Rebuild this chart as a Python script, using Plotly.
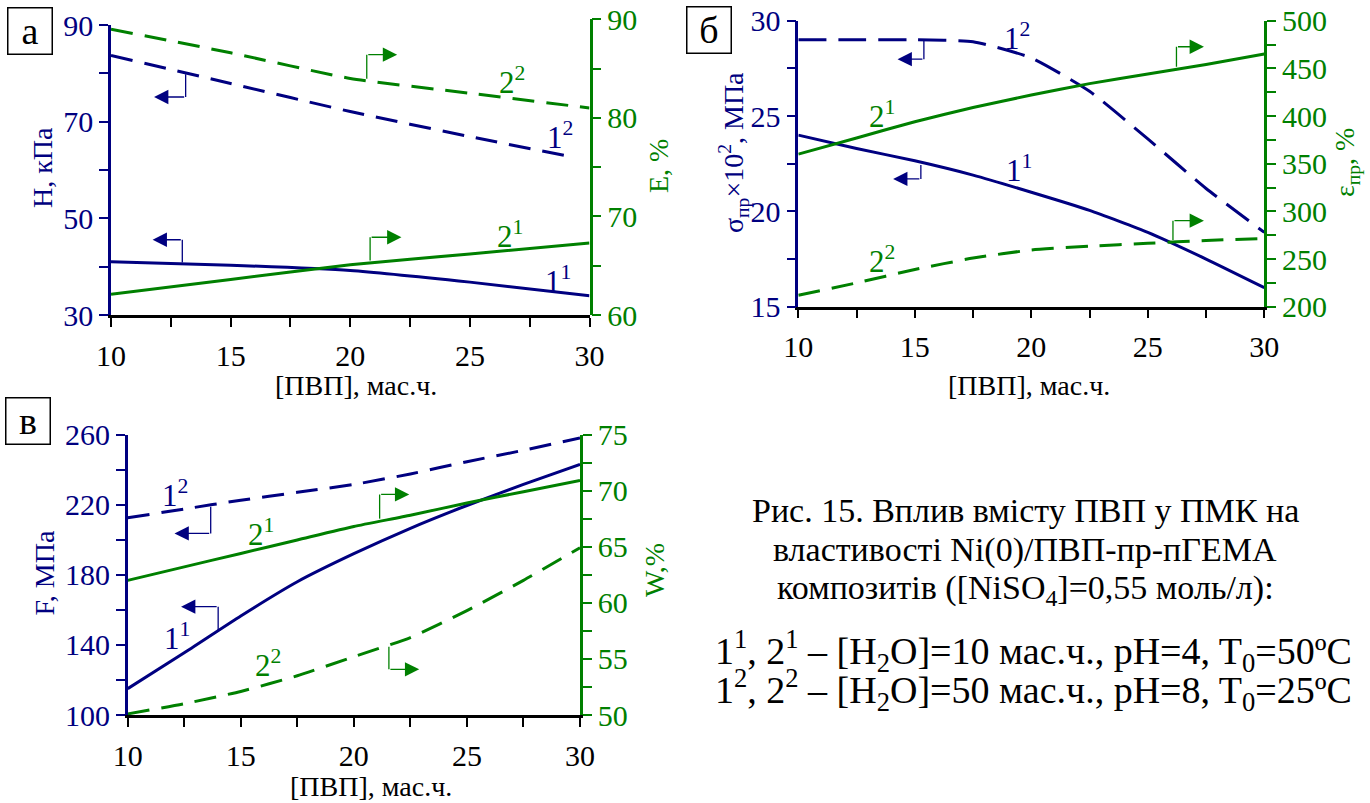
import plotly.graph_objects as go

NAVY = '#000080'
GREEN = '#008000'
FONT = '"Liberation Serif", "Times New Roman", "DejaVu Serif", serif'
W, H = 1370, 803

# ---------------- data ----------------
# panel а
pvp_a = [10, 15, 20, 25, 30]
pvp_a_12 = [10, 15, 20, 25, 29.4]
H_1 = [41.0, 40.3, 39.2, 36.8, 34.0]
H_2 = [83.7, 77.9, 72.1, 66.9, 62.6]
E_1 = [62.1, 63.6, 65.1, 66.2, 67.3]
E_2 = [89.0, 86.6, 84.0, 82.5, 81.0]

# panel б
pvp_b = [10, 12.5, 15, 17.5, 20, 22.5, 25, 27.5, 30]
sigma_1 = [24.0, 23.3, 22.65, 21.9, 21.0, 20.05, 18.9, 17.5, 16.0]
sigma_2 = [29.0, 29.0, 29.0, 28.9, 28.05, 26.3, 23.8, 21.2, 18.9]
eps_1 = [360, 377, 394, 409, 422, 434, 444, 454, 465]
eps_2 = [212, 225, 239, 251, 259.5, 263.5, 266.5, 269.5, 271.5]

# panel в
pvp_c = [10, 12.5, 15, 17.5, 20, 22.5, 25, 27.5, 30]
F_1 = [115, 135.5, 156.5, 176, 192, 206.5, 219.5, 231.5, 243]
F_2 = [212.5, 217.5, 222.5, 227, 231.5, 237.5, 244.5, 251, 258]
W_1 = [62.0, 63.2, 64.4, 65.6, 66.8, 67.8, 68.9, 69.9, 70.9]
W_2 = [50.1, 51.0, 52.1, 53.5, 55.2, 56.9, 59.3, 62.0, 64.9]

# pointer arrows: (x axis, y axis, x of stem, y start, y end, x of head, colour)
arrows = [
    ('x', 'y', 13.12, 79.8, 75.1, 11.8, NAVY),
    ('x', 'y2', 20.69, 83.97, 86.41, 21.96, GREEN),
    ('x', 'y', 12.98, 40.88, 45.57, 11.74, NAVY),
    ('x', 'y2', 20.83, 65.52, 67.89, 22.14, GREEN),
    ('x2', 'y3', 15.39, 29.0, 27.98, 14.26, NAVY),
    ('x2', 'y3', 15.26, 22.43, 21.7, 14.07, NAVY),
    ('x2', 'y4', 26.23, 451.7, 472.7, 27.41, GREEN),
    ('x2', 'y4', 26.08, 270.0, 290.2, 27.41, GREEN),
    ('x3', 'y5', 13.67, 218.8, 203.6, 12.07, NAVY),
    ('x3', 'y6', 21.14, 67.5, 69.66, 22.45, GREEN),
    ('x3', 'y5', 14.0, 147.5, 161.8, 12.36, NAVY),
    ('x3', 'y6', 21.55, 56.09, 54.07, 22.89, GREEN),
]

# curve labels: (text, x axis, y axis, x, y, colour)
curve_labels = [
    ('1<sup>2</sup>', 'x', 'y', 28.77, 67.06, NAVY),
    ('2<sup>2</sup>', 'x', 'y2', 26.77, 83.8, GREEN),
    ('2<sup>1</sup>', 'x', 'y2', 26.68, 68.2, GREEN),
    ('1<sup>1</sup>', 'x', 'y', 28.67, 37.4, NAVY),
    ('1<sup>2</sup>', 'x2', 'y3', 19.37, 29.16, NAVY),
    ('2<sup>1</sup>', 'x2', 'y3', 13.6, 25.06, GREEN),
    ('1<sup>1</sup>', 'x2', 'y3', 19.46, 22.26, NAVY),
    ('2<sup>2</sup>', 'x2', 'y3', 13.6, 17.45, GREEN),
    ('1<sup>2</sup>', 'x3', 'y5', 12.07, 226.4, NAVY),
    ('2<sup>1</sup>', 'x3', 'y6', 15.9, 66.3, GREEN),
    ('1<sup>1</sup>', 'x3', 'y5', 12.17, 144.7, NAVY),
    ('2<sup>2</sup>', 'x3', 'y6', 16.2, 54.6, GREEN),
]

caption_lines = [
    'Рис. 15. Вплив вмісту ПВП у ПМК на',
    'властивості Ni(0)/ПВП-пр-пГЕМА',
    'композитів ([NiSO<sub>4</sub>]=0,55 моль/л):',
    '1<sup>1</sup>, 2<sup>1</sup> – [H<sub>2</sub>O]=10 мас.ч., pH=4, T<sub>0</sub>=50ºC',
    '1<sup>2</sup>, 2<sup>2</sup> – [H<sub>2</sub>O]=50 мас.ч., pH=8, T<sub>0</sub>=25ºC',
]


def fx(px):
    return px / W


def fy(py):
    return 1 - py / H


fig = go.Figure()


def line(x, y, xa, ya, color, dash=None):
    fig.add_trace(go.Scatter(
        x=x, y=y, xaxis=xa, yaxis=ya, mode='lines', hoverinfo='skip',
        line=dict(color=color, width=3, dash=dash, shape='spline', smoothing=0.5)))


DASH = '22px,12px'
line(pvp_a, H_1, 'x', 'y', NAVY)
line(pvp_a_12, H_2, 'x', 'y', NAVY, DASH)
line(pvp_a, E_1, 'x', 'y2', GREEN)
line(pvp_a, E_2, 'x', 'y2', GREEN, DASH)

line(pvp_b, sigma_1, 'x2', 'y3', NAVY)
line(pvp_b, sigma_2, 'x2', 'y3', NAVY, '28px,12px')
line(pvp_b, eps_1, 'x2', 'y4', GREEN)
line(pvp_b, eps_2, 'x2', 'y4', GREEN, DASH)

line(pvp_c, F_1, 'x3', 'y5', NAVY)
line(pvp_c, F_2, 'x3', 'y5', NAVY, DASH)
line(pvp_c, W_1, 'x3', 'y6', GREEN)
line(pvp_c, W_2, 'x3', 'y6', GREEN, DASH)


def xax(x0, x1, anchor):
    return dict(domain=[fx(x0), fx(x1)], anchor=anchor, range=[10, 30],
                tick0=10, dtick=5, ticks='outside', ticklen=9, tickwidth=2,
                tickcolor='black',
                minor=dict(dtick=2.5, ticks='outside', ticklen=9, tickwidth=2,
                           tickcolor='black', showgrid=False),
                showline=True, linecolor='black', linewidth=2.5,
                showgrid=False, zeroline=False, automargin=False,
                ticklabelstandoff=3,
                tickfont=dict(family=FONT, size=30, color='black'))


def yax(ytop, ybot, anchor, side, rng, dtick, mdtick, color, overlaying=None):
    d = dict(anchor=anchor, side=side, range=rng, tick0=rng[0], dtick=dtick,
             ticks='outside', ticklen=9, tickwidth=2, tickcolor=color,
             minor=dict(dtick=mdtick, tick0=rng[0], ticks='outside', ticklen=9,
                        tickwidth=2, tickcolor=color, showgrid=False),
             showline=True, linecolor=color, linewidth=2.5,
             showgrid=False, zeroline=False, automargin=False,
             tickfont=dict(family=FONT, size=30, color=color))
    if overlaying:
        d['overlaying'] = overlaying
    else:
        d['domain'] = [fy(ybot), fy(ytop)]
    return d


fig.update_layout(
    width=W, height=H, margin=dict(l=0, r=0, t=0, b=0),
    paper_bgcolor='white', plot_bgcolor='rgba(0,0,0,0)', showlegend=False,
    font=dict(family=FONT),
    xaxis=xax(111, 589.5, 'y'),
    yaxis=yax(25, 315, 'x', 'left', [30, 90], 20, 10, NAVY),
    yaxis2=yax(19.3, 315, 'x', 'right', [60, 90], 10, 5, GREEN),
    xaxis2=xax(798.3, 1264.3, 'y3'),
    yaxis3=yax(20.7, 306.7, 'x2', 'left', [15, 30], 5, 2.5, NAVY),
    yaxis4=yax(20.7, 306.7, 'x2', 'right', [200, 500], 50, 25, GREEN, 'y3'),
    xaxis3=xax(127.7, 580, 'y5'),
    yaxis5=yax(434.5, 715, 'x3', 'left', [100, 260], 40, 20, NAVY),
    yaxis6=yax(434.5, 715, 'x3', 'right', [50, 75], 5, 2.5, GREEN, 'y5'),
)

ann = []
shapes = []
for xa, ya, xs, y0, y1, xh, col in arrows:
    shapes.append(dict(type='line', xref=xa, yref=ya, x0=xs, x1=xs, y0=y0, y1=y1,
                       line=dict(color=col, width=1.3)))
    ann.append(dict(xref=xa, yref=ya, x=xh, y=y1, axref=xa, ayref=ya, ax=xs, ay=y1,
                    text='', showarrow=True, arrowhead=2, arrowsize=2.2,
                    arrowwidth=1.3, arrowcolor=col))

for txt, xa, ya, x, y, col in curve_labels:
    ann.append(dict(xref=xa, yref=ya, x=x, y=y, text=txt, showarrow=False,
                    xanchor='center', yanchor='middle',
                    font=dict(family=FONT, size=31, color=col)))

# panel letters
for txt, cx, cy in [('а', 29.5, 30.5), ('б', 708.7, 29.7), ('в', 28, 420.5)]:
    ann.append(dict(xref='paper', yref='paper', x=fx(cx), y=fy(cy), text=txt,
                    xanchor='center', yanchor='middle',
                    showarrow=False, width=43, height=45, borderpad=0,
                    bordercolor='black', borderwidth=1.5, bgcolor='white',
                    font=dict(family=FONT, size=38, color='black')))


def title(txt, cx, cy, col, angle=0, size=28):
    ann.append(dict(xref='paper', yref='paper', x=fx(cx), y=fy(cy), text=txt,
                    showarrow=False, textangle=angle, xanchor='center',
                    yanchor='middle',
                    font=dict(family=FONT, size=size, color=col)))


title('H, кПа', 43, 168, NAVY, -90)
title('E, %', 659, 166, GREEN, -90)
title('[ПВП], мас.ч.', 356, 386, 'black', 0, 28)
title('σ<sub>пр</sub>×10<sup>2</sup>, МПа', 733, 153, NAVY, -90)
title('ε<sub>пр</sub>, %', 1346, 163, GREEN, -90)
title('[ПВП], мас.ч.', 1029, 386, 'black', 0, 28)
title('F, МПа', 43.5, 573, NAVY, -90)
title('W,%', 654, 570, GREEN, -90)
title('[ПВП], мас.ч.', 371, 786, 'black', 0, 28)

for txt, cy, cx, sz in zip(caption_lines, [510, 550, 590, 651, 690],
                           [1025, 1025, 1025, 1033, 1033], [34, 34, 34, 38, 38]):
    title(txt, cx, cy, 'black', 0, sz)

fig.update_layout(annotations=ann, shapes=shapes)
fig.write_html('out.html')
